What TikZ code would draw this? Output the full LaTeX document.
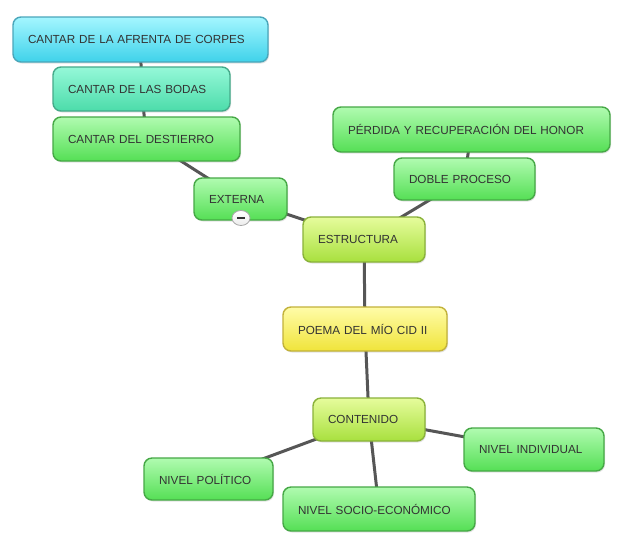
\documentclass[tikz,border=0pt]{standalone}
\usepackage{fontspec}
\setmainfont{Liberation Sans}
\usetikzlibrary{shadows,backgrounds,shapes.geometric}
\definecolor{txt}{HTML}{333333}
\definecolor{lnk}{HTML}{565656}
\definecolor{cyT}{HTML}{A4F6FF}\definecolor{cyB}{HTML}{3FD2EA}\definecolor{cyD}{HTML}{4AA6BA}
\definecolor{tlT}{HTML}{95F8D8}\definecolor{tlB}{HTML}{4CDCAA}\definecolor{tlD}{HTML}{45AA8A}
\definecolor{grT}{HTML}{B0FBB0}\definecolor{grB}{HTML}{55DF55}\definecolor{grD}{HTML}{46A846}
\definecolor{lmT}{HTML}{E6FC9C}\definecolor{lmB}{HTML}{A8E03E}\definecolor{lmD}{HTML}{8AB23A}
\definecolor{ylT}{HTML}{FFFCA8}\definecolor{ylB}{HTML}{F0E43A}\definecolor{ylD}{HTML}{C2B23A}
\tikzset{
  box/.style n args={2}{rounded corners=8pt, line width=1.4pt, text=txt,
    font=\fontsize{11.7}{13}\selectfont, align=left, inner xsep=15pt, inner ysep=0pt,
    text width=#1pt-30pt, minimum height=#2pt,
    drop shadow={shadow xshift=1pt, shadow yshift=-1.5pt, opacity=0.22}},
  cyanbox/.style={draw=cyD, top color=cyT, bottom color=cyB},
  tealbox/.style={draw=tlD, top color=tlT, bottom color=tlB},
  greenbox/.style={draw=grD, top color=grT, bottom color=grB},
  limebox/.style={draw=lmD, top color=lmT, bottom color=lmB},
  yellowbox/.style={draw=ylD, top color=ylT, bottom color=ylB},
  link/.style={draw=lnk, line width=3pt},
  btn/.style={ellipse, draw=gray!70, line width=0.8pt, top color=white, bottom color=gray!15,
    minimum width=18pt, minimum height=15pt, inner sep=0pt},
  btnmark/.style={draw=txt, line width=2pt}
}
\begin{document}
\begin{tikzpicture}[x=1pt,y=-1pt]
\useasboundingbox (0,0) rectangle (620,542);
\node[box={255}{45}, cyanbox] (afr) at (140.5,39.5) {CANTAR DE LA AFRENTA DE CORPES};
\node[box={177}{44}, tealbox] (bod) at (141.5,89) {CANTAR DE LAS BODAS};
\node[box={187}{44}, greenbox] (des) at (146.5,139) {CANTAR DEL DESTIERRO};
\node[box={93}{42}, greenbox] (ext) at (240.5,199) {EXTERNA};
\node[btn] (extbtn) at (241,218) {};
\draw[btnmark] ([xshift=-4pt]extbtn.center) -- ([xshift=4pt]extbtn.center);
\node[box={122}{45}, limebox] (est) at (364,239.5) {ESTRUCTURA};
\node[box={277}{45}, greenbox] (per) at (471.5,129.5) {PÉRDIDA Y RECUPERACIÓN DEL HONOR};
\node[box={141}{42}, greenbox] (dob) at (464.5,179) {DOBLE PROCESO};
\node[box={164}{44}, yellowbox] (poe) at (365,329) {POEMA DEL MÍO CID II};
\node[box={112}{43}, limebox] (con) at (369,419.5) {CONTENIDO};
\node[box={140}{43}, greenbox] (ind) at (534,449.5) {NIVEL INDIVIDUAL};
\node[box={129}{42}, greenbox] (pol) at (208.5,479) {NIVEL POLÍTICO};
\node[box={192}{44}, greenbox] (soc) at (379,509) {NIVEL SOCIO-ECONÓMICO};
\begin{scope}[on background layer]
\fill[white] (0,0) rectangle (620,542);
\draw[link] (afr.center) -- (bod.center);
\draw[link] (bod.center) -- (des.center);
\draw[link] (des.center) -- (ext.center);
\draw[link] (ext.center) -- (est.center);
\draw[link] (per.center) -- (dob.center);
\draw[link] (dob.center) -- (est.center);
\draw[link] (est.center) -- (poe.center);
\draw[link] (poe.center) -- (con.center);
\draw[link] (con.center) -- (ind.center);
\draw[link] (con.center) -- (pol.center);
\draw[link] (con.center) -- (soc.center);
\end{scope}
\end{tikzpicture}
\end{document}
